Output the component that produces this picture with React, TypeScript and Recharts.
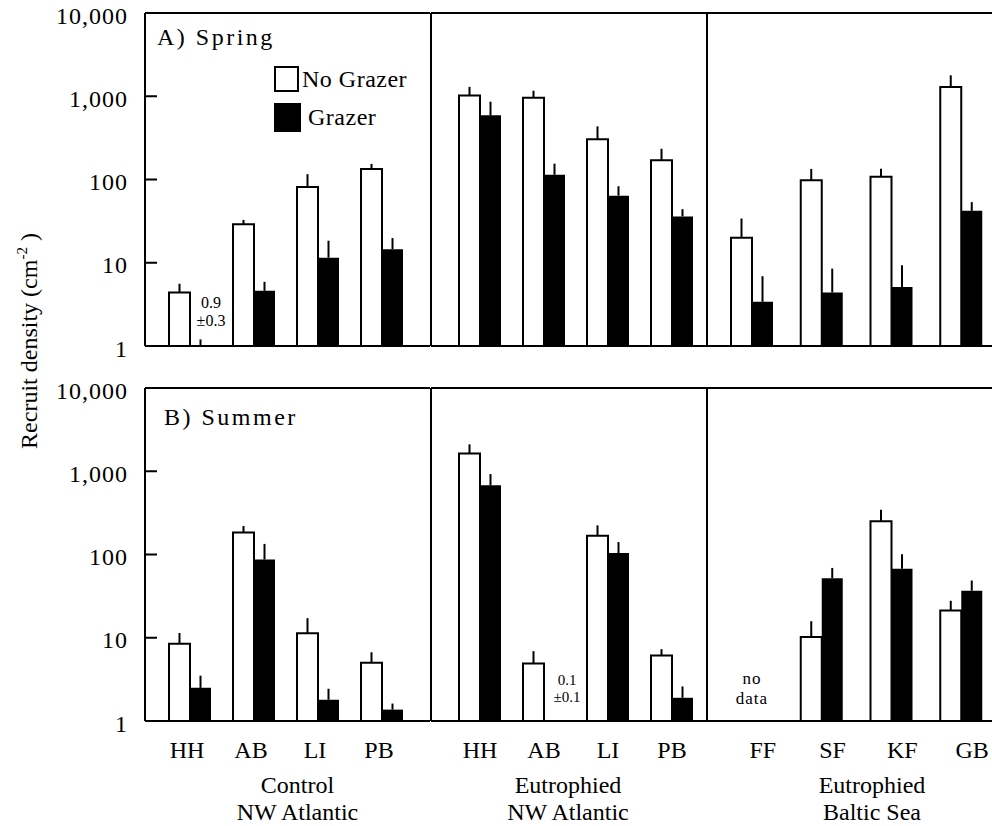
import React from "react";
import { BarChart, Bar, XAxis, YAxis, ErrorBar, ReferenceLine, ReferenceDot, Legend } from "recharts";

const FONT = "'Liberation Serif', 'Times New Roman', Times, serif";

// sites, left to right, one list per region
const controlSites = ["HH", "AB", "LI", "PB"];
const eutroAtlanticSites = ["HH", "AB", "LI", "PB"];
const balticSites = ["FF", "SF", "KF", "GB"];
const regionSites = [controlSites, eutroAtlanticSites, balticSites];
const regionNames = [
  ["Control", "NW Atlantic"],
  ["Eutrophied", "NW Atlantic"],
  ["Eutrophied", "Baltic Sea"],
];

const yTicks = [1, 10, 100, 1000, 10000];
const seriesNames = ["No Grazer", "Grazer"];

// A) Spring, recruits per cm2 (mean, +1 SE)
const springNoGrazer = [4.4, 29, 81, 134, 1020, 960, 305, 170, 20, 98, 108, 1290];
const springNoGrazerSE = [1.2, 3.7, 35, 20, 275, 205, 130, 64, 14, 36, 27, 495];
const springGrazer = [0.9, 4.6, 11.5, 14.5, 590, 114, 64, 36, 3.4, 4.4, 5.1, 42];
const springGrazerSE = [0.3, 1.3, 6.9, 5.3, 270, 41, 19, 8, 3.5, 4.1, 4.2, 11.5];

// B) Summer
const summerNoGrazer = [8.5, 184, 11.3, 5.0, 1630, 4.9, 168, 6.1, null, 10.2, 250, 21.3];
const summerNoGrazerSE = [2.9, 36, 5.9, 1.7, 475, 2.0, 56, 1.2, null, 5.6, 95, 6.5];
const summerGrazer = [2.5, 87, 1.8, 1.37, 677, 0.1, 104, 1.9, null, 52, 67.5, 36.7];
const summerGrazerSE = [1.0, 47, 0.64, 0.25, 248, 0.1, 37, 0.7, null, 17, 33, 12];

// small printed values / missing data
const springNotes = [{ region: 0, site: "HH", lines: ["0.9", "\u00b10.3"] }];
const summerNotes = [
  { region: 1, site: "AB", lines: ["0.1", "\u00b10.1"] },
  { region: 2, site: "FF", lines: ["no", "data"] },
];

// layout (pixels)
const PLOT_H = 333;
const regionLayout = [
  { left: 0, width: 430, yAxisWidth: 145, padL: 13, padR: 16, tickShift: -3, nameShift: 10 },
  { left: 421, width: 286, yAxisWidth: 10, padL: 17, padR: 3, tickShift: 0, nameShift: -1 },
  { left: 697, width: 300, yAxisWidth: 10, padL: 10, padR: 1, tickShift: 11, nameShift: 20 },
];
const noteLayout: Record<string, { shiftX: number; ys: number[]; spacing: number; size: number }> = {
  "0-HH": { shiftX: 21, ys: [-38, -20], spacing: 0, size: 16 },
  "1-AB": { shiftX: 23, ys: [-36, -19], spacing: 0, size: 15 },
  "2-FF": { shiftX: 0, ys: [-37, -17], spacing: 1, size: 17 },
};

function errRange(v: number | null, se: number | null) {
  if (v == null || se == null || v + se <= 1) return null;
  return [v < 1 ? v - 1 : 0, se];
}

function buildRows(no: (number | null)[], noSe: (number | null)[], gr: (number | null)[], grSe: (number | null)[]) {
  return regionSites.map((sites, g) =>
    sites.map((site, i) => {
      const k = g * 4 + i;
      return {
        site,
        no: no[k],
        noErr: errRange(no[k], noSe[k]),
        gr: gr[k],
        grErr: errRange(gr[k], grSe[k]),
      };
    })
  );
}

const panels = [
  {
    key: "spring",
    title: "A) Spring",
    titleX: 12,
    titleY: 32,
    top: 0,
    axisHeight: 10,
    rows: buildRows(springNoGrazer, springNoGrazerSE, springGrazer, springGrazerSE),
    notes: springNotes,
    legend: true,
    bottomLabels: false,
  },
  {
    key: "summer",
    title: "B) Summer",
    titleX: 19,
    titleY: 37,
    top: 375,
    axisHeight: 106,
    rows: buildRows(summerNoGrazer, summerNoGrazerSE, summerGrazer, summerGrazerSE),
    notes: summerNotes,
    legend: false,
    bottomLabels: true,
  },
];

function LeftTick(props: any) {
  const { y, payload } = props;
  const v = payload.value;
  return (
    <g>
      {v > 1 && v < 10000 && <line x1={146} x2={157} y1={y} y2={y} stroke="#000" strokeWidth={2} />}
      <text x={128} y={y + 10.5} textAnchor="end" fontFamily={FONT} fontSize={24} letterSpacing={1} fill="#000">
        {v.toLocaleString("en-US")}
      </text>
    </g>
  );
}

function RightTick(props: any) {
  const { x, y, payload } = props;
  if (payload.value <= 1 || payload.value >= 10000) return <g />;
  return <line x1={x - 9} x2={x} y1={y} y2={y} stroke="#000" strokeWidth={2} />;
}

function XTick(props: any) {
  const { x, y, payload, shiftX } = props;
  return (
    <text x={x + shiftX} y={y + 37} textAnchor="middle" fontFamily={FONT} fontSize={24} fill="#000">
      {payload.value}
    </text>
  );
}

function RegionName(props: any) {
  const { viewBox, lines, shiftX } = props;
  const cx = viewBox.x + viewBox.width / 2 + shiftX;
  return (
    <g fontFamily={FONT} fontSize={24} fill="#000">
      <text x={cx} y={viewBox.y + 72} textAnchor="middle">{lines[0]}</text>
      <text x={cx} y={viewBox.y + 99} textAnchor="middle">{lines[1]}</text>
    </g>
  );
}

function PanelTitle(props: any) {
  const { viewBox, caption, shiftX, shiftY } = props;
  return (
    <text x={viewBox.x + shiftX} y={viewBox.y + shiftY} fontFamily={FONT} fontSize={24} letterSpacing={2.5} fill="#000">
      {caption}
    </text>
  );
}

function NoteText(props: any) {
  const { viewBox, lines, shiftX, ys, spacing, size } = props;
  const cx = viewBox.x + shiftX;
  return (
    <g fontFamily={FONT} fontSize={size} fill="#000">
      {lines.map((t: string, i: number) => (
        <text key={i} x={cx} y={viewBox.y + ys[i]} textAnchor="middle" letterSpacing={spacing}>
          {t}
        </text>
      ))}
    </g>
  );
}

function YTitle() {
  return (
    <text x={37} y={341} transform="rotate(-90, 37, 341)" textAnchor="middle" fontFamily={FONT} fontSize={24} fill="#000">
      Recruit density (cm<tspan fontSize={15} dy={-10}>-2</tspan>
      <tspan dy={10}> )</tspan>
    </text>
  );
}

function LegendBox(props: any) {
  const items = [...(props.payload || [])].sort(
    (a: any, b: any) => seriesNames.indexOf(a.value) - seriesNames.indexOf(b.value)
  );
  return (
    <div style={{ fontFamily: FONT, fontSize: 24, color: "#000", lineHeight: 1 }}>
      {items.map((e: any) => {
        const open = e.value === "No Grazer";
        return (
          <div key={e.value} style={{ display: "flex", alignItems: "center", height: 38 }}>
            <span
              style={{
                display: "inline-block",
                width: open ? 25 : 27,
                height: open ? 26 : 29,
                background: open ? "#fff" : "#000",
                border: open ? "2px solid #000" : "none",
                boxSizing: "border-box",
              }}
            />
            <span style={{ marginLeft: open ? 3 : 7, letterSpacing: 0.5 }}>{e.value}</span>
          </div>
        );
      })}
    </div>
  );
}

const axisStroke = { stroke: "#000", strokeWidth: 2 };

function RegionChart({ panel, g }: { panel: (typeof panels)[number]; g: number }) {
  const lay = regionLayout[g];
  const height = 13 + PLOT_H + panel.axisHeight;
  const notes = panel.notes.filter((n) => n.region === g);
  return (
    <div style={{ position: "absolute", left: lay.left, top: panel.top }}>
      <BarChart
        width={lay.width}
        height={height}
        data={panel.rows[g]}
        margin={{ top: 13, right: 0, bottom: 0, left: 0 }}
        barGap={0}
      >
        <XAxis
          dataKey="site"
          interval={0}
          height={panel.axisHeight}
          padding={{ left: lay.padL, right: lay.padR }}
          axisLine={axisStroke}
          tickLine={false}
          tickSize={0}
          tickMargin={0}
          tick={panel.bottomLabels ? <XTick shiftX={lay.tickShift} /> : false}
          label={panel.bottomLabels ? <RegionName lines={regionNames[g]} shiftX={lay.nameShift} /> : undefined}
        />
        <YAxis
          type="number"
          scale="log"
          domain={[1, 10000]}
          allowDataOverflow
          ticks={yTicks}
          width={lay.yAxisWidth}
          axisLine={axisStroke}
          tickLine={false}
          tick={g === 0 ? <LeftTick /> : false}
          label={g === 0 && panel.legend ? <YTitle /> : undefined}
        />
        {g === 2 && (
          <YAxis
            yAxisId="right"
            orientation="right"
            type="number"
            scale="log"
            domain={[1, 10000]}
            allowDataOverflow
            ticks={yTicks}
            width={0}
            axisLine={false}
            tickLine={false}
            tickSize={0}
            tickMargin={0}
            tick={<RightTick />}
          />
        )}
        <ReferenceLine
          y={10000}
          stroke="#000"
          strokeWidth={2}
          label={g === 0 ? <PanelTitle caption={panel.title} shiftX={panel.titleX} shiftY={panel.titleY} /> : undefined}
        />
        <Bar dataKey="no" name="No Grazer" fill="#fff" stroke="#000" strokeWidth={2} barSize={21} isAnimationActive={false}>
          <ErrorBar dataKey="noErr" width={0} stroke="#000" strokeWidth={2} direction="y" />
        </Bar>
        <Bar dataKey="gr" name="Grazer" fill="#000" barSize={21} isAnimationActive={false}>
          <ErrorBar dataKey="grErr" width={0} stroke="#000" strokeWidth={2} direction="y" />
        </Bar>
        {notes.map((n) => {
          const nl = noteLayout[`${n.region}-${n.site}`];
          return (
            <ReferenceDot
              key={n.site}
              x={n.site}
              y={1}
              r={0}
              fill="none"
              stroke="none"
              label={<NoteText lines={n.lines} shiftX={nl.shiftX} ys={nl.ys} spacing={nl.spacing} size={nl.size} />}
            />
          );
        })}
        {g === 0 && panel.legend && (
          <Legend
            layout="vertical"
            align="center"
            verticalAlign="middle"
            content={<LegendBox />}
            wrapperStyle={{ left: 274, top: 60, width: "auto", height: "auto" }}
          />
        )}
      </BarChart>
    </div>
  );
}

export default function App() {
  return (
    <div
      style={{
        position: "absolute",
        left: 0,
        top: 0,
        width: 992,
        height: 826,
        overflow: "hidden",
        background: "#fff",
        fontFamily: FONT,
      }}
    >
      <style>{`.recharts-surface{overflow:visible}`}</style>
      {panels.map((p) => (
        <React.Fragment key={p.key}>
          {[0, 1, 2].map((g) => (
            <RegionChart key={g} panel={p} g={g} />
          ))}
        </React.Fragment>
      ))}
    </div>
  );
}
